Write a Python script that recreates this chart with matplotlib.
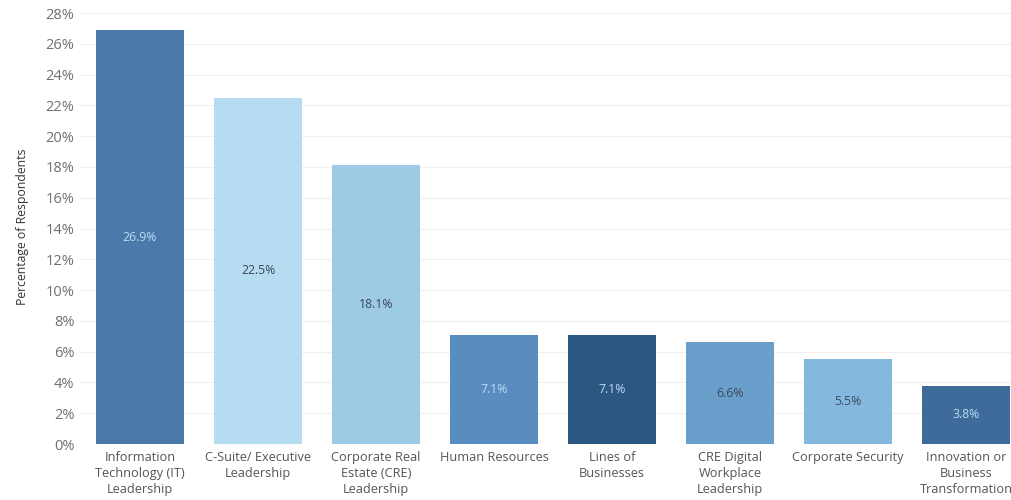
import numpy as np
import matplotlib.pyplot as plt

categories = ["Information\nTechnology (IT)\nLeadership", "C-Suite/ Executive\nLeadership",
              "Corporate Real\nEstate (CRE)\nLeadership", "Human Resources",
              "Lines of\nBusinesses", "CRE Digital\nWorkplace\nLeadership",
              "Corporate Security", "Innovation or\nBusiness\nTransformation"]
values = [26.9, 22.5, 18.1, 7.1, 7.1, 6.6, 5.5, 3.8]
colors = ["#4a79aa", "#b6dcf1", "#9dcbe6", "#5a8dbf", "#2d5783", "#6a9fcc", "#85b8de", "#3e6b9a"]
text_colors = ["#b9dcf2", "#3a4a5c", "#3a4a5c", "#b9dcf2", "#b9dcf2", "#3a4a5c", "#3a4a5c", "#b9dcf2"]
yticks = list(range(0, 29, 2))

plt.rcParams['font.family'] = ['Open Sans', 'DejaVu Sans']
fig = plt.figure(figsize=(10.11, 5.0), dpi=100)
ax = fig.add_axes([0.079, 0.112, 0.921, 0.868])

x = np.arange(len(values))
ax.bar(x, values, width=0.74, color=colors, zorder=2)
for xi, v, tc in zip(x, values, text_colors):
    ax.text(xi, v / 2, f"{v}%", ha='center', va='center', color=tc, fontsize=8.8, zorder=3)

ax.set_xlim(-0.51, 7.38)
ax.set_ylim(0, 28.2)
ax.set_yticks(yticks)
ax.set_yticklabels([f"{t}%" for t in yticks])
ax.set_xticks(x)
ax.set_xticklabels(categories, fontsize=9.2, color='#555555', linespacing=1.3)
ax.tick_params(axis='y', labelsize=10.5, labelcolor='#707070', length=0, pad=4)
ax.tick_params(axis='x', length=0, pad=5)
ax.grid(axis='y', color='#f0f0f0', linewidth=0.8, zorder=0)
for s in ax.spines.values():
    s.set_visible(False)
ax.set_ylabel("Percentage of Respondents", fontsize=8.8, color='#333333', labelpad=12)

fig.savefig("out.png", dpi=100)
